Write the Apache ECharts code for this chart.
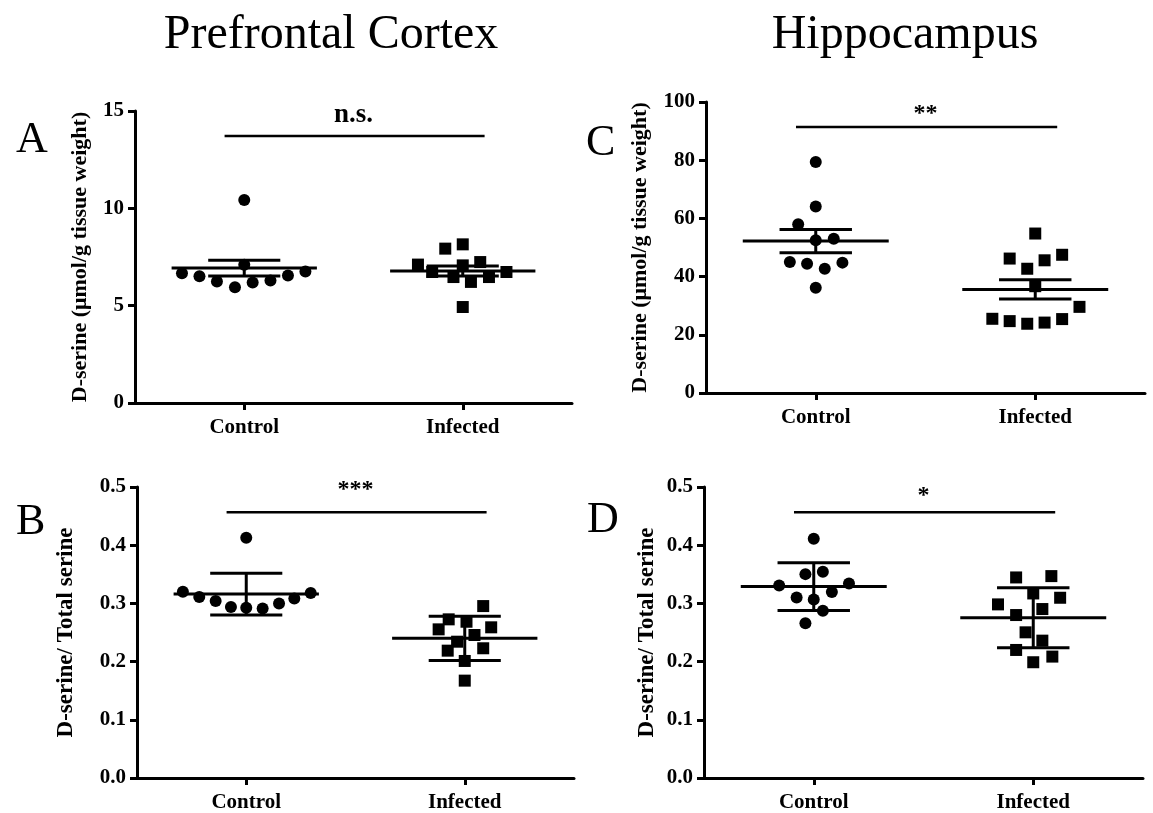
<!DOCTYPE html>
<html>
<head>
<meta charset="utf-8">
<title>D-serine</title>
<script src="https://cdn.jsdelivr.net/npm/echarts@6/dist/echarts.min.js"></script>
<style>
html, body { margin: 0; padding: 0; background: #fff; }
#main { width: 1153px; height: 813px; }
</style>
</head>
<body>
<div id="main"></div>
<script>
// groups sit at x = 1 (Control) and x = 3 (Infected); jitter is the horizontal spread of each dot
var groups = ['Control', 'Infected'];

// A - prefrontal cortex, D-serine (umol/g)
var aControl = [10.43, 7.1, 6.67, 6.51, 6.24, 5.95, 6.19, 6.29, 6.55, 6.75];
var aControlJitter = [0, 0, -0.57, -0.41, -0.25, -0.085, 0.077, 0.24, 0.40, 0.56];
var aInfected = [7.93, 8.15, 7.11, 6.73, 6.47, 7.07, 6.22, 7.24, 6.47, 6.73, 4.93];
var aInfectedJitter = [-0.16, 0, -0.41, -0.28, -0.085, 0, 0.075, 0.16, 0.24, 0.40, 0];
var aMean = [6.93, 6.78];
var aErr = [0.4, 0.26];

// B - prefrontal cortex, D-serine / total serine
var bControl = [0.4126, 0.32, 0.311, 0.304, 0.294, 0.2926, 0.2914, 0.3, 0.3086, 0.318];
var bControlJitter = [0, -0.58, -0.43, -0.28, -0.14, 0, 0.15, 0.30, 0.44, 0.59];
var bInfected = [0.2954, 0.2726, 0.2554, 0.2685, 0.2589, 0.2457, 0.2342, 0.2229, 0.2188, 0.2011, 0.1673];
var bInfectedJitter = [0.169, -0.147, -0.239, 0.016, 0.242, 0.089, -0.07, 0.169, -0.156, 0, 0];
var bMean = [0.316, 0.240];
var bErr = [0.036, 0.038];

// C - hippocampus, D-serine (umol/g)
var cControl = [79.4, 64.1, 58.0, 53.0, 52.5, 45.0, 44.4, 44.8, 42.7, 36.2];
var cControlJitter = [0, 0, -0.16, 0.164, 0, -0.236, -0.079, 0.243, 0.082, 0];
var cInfected = [54.8, 46.2, 45.6, 47.5, 42.7, 36.7, 29.6, 25.5, 24.7, 23.8, 24.2, 25.4];
var cInfectedJitter = [0, -0.233, 0.085, 0.245, -0.073, 0, 0.403, -0.391, -0.233, -0.073, 0.085, 0.245];
var cMean = [52.2, 35.6];
var cErr = [4.0, 3.3];

// D - hippocampus, D-serine / total serine
var dControl = [0.4109, 0.3503, 0.3543, 0.3309, 0.3343, 0.3194, 0.3103, 0.3069, 0.2874, 0.2657];
var dControlJitter = [0, -0.076, 0.083, -0.315, 0.321, 0.165, -0.156, 0, 0.083, -0.076];
var dInfected = [0.3446, 0.3469, 0.3171, 0.3097, 0.2983, 0.2903, 0.28, 0.2503, 0.236, 0.22, 0.2086, 0.1989];
var dInfectedJitter = [-0.156, 0.165, 0, 0.245, -0.321, 0.083, -0.156, -0.07, 0.083, -0.156, 0.174, 0];
var dMean = [0.329, 0.2755];
var dErr = [0.041, 0.0515];

// significance bars
var sigText = ['n.s.', '***', '**', '*'];
var sigLevel = [13.71, 0.4566, 91.4, 0.4566];
var sigSpan = [0.82, 3.2];

// y axes
var yMax = [15, 0.5, 100, 0.5];
var yStep = [5, 0.1, 20, 0.1];
var yNames = ['D-serine (\u03bcmol/g tissue weight)', 'D-serine/ Total serine',
	'D-serine (\u03bcmol/g tissue weight)', 'D-serine/ Total serine'];

var FONT = '"Liberation Serif", "Times New Roman", serif';

var panels = [
	{ grid: { left: 135, top: 111, width: 437, height: 292 }, nameGap: 44, nameSize: 22, sigSize: 27, sigDist: 7,
		ctrl: aControl, ctrlJ: aControlJitter, inf: aInfected, infJ: aInfectedJitter, mean: aMean, err: aErr },
	{ grid: { left: 137, top: 487, width: 437, height: 291 }, nameGap: 59, nameSize: 23, sigSize: 24, sigDist: 10,
		ctrl: bControl, ctrlJ: bControlJitter, inf: bInfected, infJ: bInfectedJitter, mean: bMean, err: bErr },
	{ grid: { left: 706, top: 102, width: 439, height: 291 }, nameGap: 55, nameSize: 22, sigSize: 24, sigDist: 1,
		ctrl: cControl, ctrlJ: cControlJitter, inf: cInfected, infJ: cInfectedJitter, mean: cMean, err: cErr },
	{ grid: { left: 704, top: 487, width: 439, height: 291 }, nameGap: 45, nameSize: 23, sigSize: 24, sigDist: 4,
		ctrl: dControl, ctrlJ: dControlJitter, inf: dInfected, infJ: dInfectedJitter, mean: dMean, err: dErr }
];

function points(center, vals, jit) {
	var out = [];
	for (var i = 0; i < vals.length; i++) {
		out.push([center + jit[i], vals[i]]);
	}
	return out;
}

// mean line + error bar with caps, widths in x-axis units
function renderMeanErr(params, api) {
	var x = api.value(0), m = api.value(1), e = api.value(2);
	var c = api.coord([x, m]);
	var hi = api.coord([x, m + e]);
	var lo = api.coord([x, m - e]);
	var halfMean = api.size([0.665, 0])[0];
	var halfCap = api.size([0.33, 0])[0];
	var st = { stroke: '#000', lineWidth: 3 };
	return {
		type: 'group',
		children: [
			{ type: 'line', shape: { x1: c[0] - halfMean, y1: c[1], x2: c[0] + halfMean, y2: c[1] }, style: st },
			{ type: 'line', shape: { x1: c[0], y1: hi[1], x2: c[0], y2: lo[1] }, style: st },
			{ type: 'line', shape: { x1: c[0] - halfCap, y1: hi[1], x2: c[0] + halfCap, y2: hi[1] }, style: st },
			{ type: 'line', shape: { x1: c[0] - halfCap, y1: lo[1], x2: c[0] + halfCap, y2: lo[1] }, style: st }
		]
	};
}

var option = {
	backgroundColor: '#fff',
	animation: false,
	title: [
		{ text: 'Prefrontal Cortex', left: 326, top: 6, textAlign: 'center',
			textStyle: { fontFamily: FONT, fontSize: 48, fontWeight: 'normal', color: '#000' } },
		{ text: 'Hippocampus', left: 900, top: 6, textAlign: 'center',
			textStyle: { fontFamily: FONT, fontSize: 48, fontWeight: 'normal', color: '#000' } },
		{ text: 'A', left: 11, top: 113, textStyle: { fontFamily: FONT, fontSize: 44, fontWeight: 'normal', color: '#000' } },
		{ text: 'B', left: 11, top: 495, textStyle: { fontFamily: FONT, fontSize: 44, fontWeight: 'normal', color: '#000' } },
		{ text: 'C', left: 581, top: 116, textStyle: { fontFamily: FONT, fontSize: 44, fontWeight: 'normal', color: '#000' } },
		{ text: 'D', left: 582, top: 493, textStyle: { fontFamily: FONT, fontSize: 44, fontWeight: 'normal', color: '#000' } }
	],
	grid: [],
	xAxis: [],
	yAxis: [],
	series: []
};

for (var p = 0; p < panels.length; p++) {
	var P = panels[p];
	option.grid.push(P.grid);
	option.xAxis.push({
		gridIndex: p, type: 'value', min: 0, max: 4,
		axisLine: { lineStyle: { color: '#000', width: 3 } },
		axisTick: { show: true, length: 7, customValues: [1, 3], lineStyle: { color: '#000', width: 3 } },
		axisLabel: {
			customValues: [1, 3], margin: 14,
			formatter: function (v) { return v < 2 ? groups[0] : groups[1]; },
			fontFamily: FONT, fontSize: 21, fontWeight: 'bold', color: '#000'
		},
		splitLine: { show: false }
	});
	(function (dec) {
		option.yAxis.push({
			gridIndex: p, type: 'value', min: 0, max: yMax[p], interval: yStep[p],
			name: yNames[p], nameLocation: 'middle', nameGap: P.nameGap,
			nameTextStyle: { fontFamily: FONT, fontSize: P.nameSize, fontWeight: 'bold', color: '#000' },
			axisLine: { show: true, lineStyle: { color: '#000', width: 3 } },
			axisTick: { show: true, length: 7, lineStyle: { color: '#000', width: 3 } },
			axisLabel: {
				margin: 11,
				formatter: function (v) { return dec ? v.toFixed(1) : String(Math.round(v)); },
				fontFamily: FONT, fontSize: 21, fontWeight: 'bold', color: '#000'
			},
			splitLine: { show: false }
		});
	})(yStep[p] < 1);

	option.series.push({
		type: 'scatter', xAxisIndex: p, yAxisIndex: p, symbol: 'circle', symbolSize: 12,
		itemStyle: { color: '#000', opacity: 1 }, silent: true,
		data: points(1, P.ctrl, P.ctrlJ)
	});
	option.series.push({
		type: 'scatter', xAxisIndex: p, yAxisIndex: p, symbol: 'rect', symbolSize: 12,
		itemStyle: { color: '#000', opacity: 1 }, silent: true,
		data: points(3, P.inf, P.infJ)
	});
	option.series.push({
		type: 'custom', xAxisIndex: p, yAxisIndex: p, renderItem: renderMeanErr, silent: true, z: 3,
		data: [[1, P.mean[0], P.err[0]], [3, P.mean[1], P.err[1]]]
	});
	option.series.push({
		type: 'line', xAxisIndex: p, yAxisIndex: p, symbol: 'none', silent: true,
		lineStyle: { color: '#000', width: 2.5 },
		data: [[sigSpan[0], sigLevel[p]], [sigSpan[1], sigLevel[p]]]
	});
	option.series.push({
		type: 'scatter', xAxisIndex: p, yAxisIndex: p, symbolSize: 1, silent: true,
		itemStyle: { color: 'rgba(0,0,0,0)', opacity: 1 },
		label: {
			show: true, position: 'top', distance: P.sigDist, formatter: sigText[p],
			fontFamily: FONT, fontSize: P.sigSize, fontWeight: 'bold', color: '#000'
		},
		data: [[2, sigLevel[p]]]
	});
}

var myChart = echarts.init(document.getElementById('main'));
myChart.setOption(option);
</script>
</body>
</html>
